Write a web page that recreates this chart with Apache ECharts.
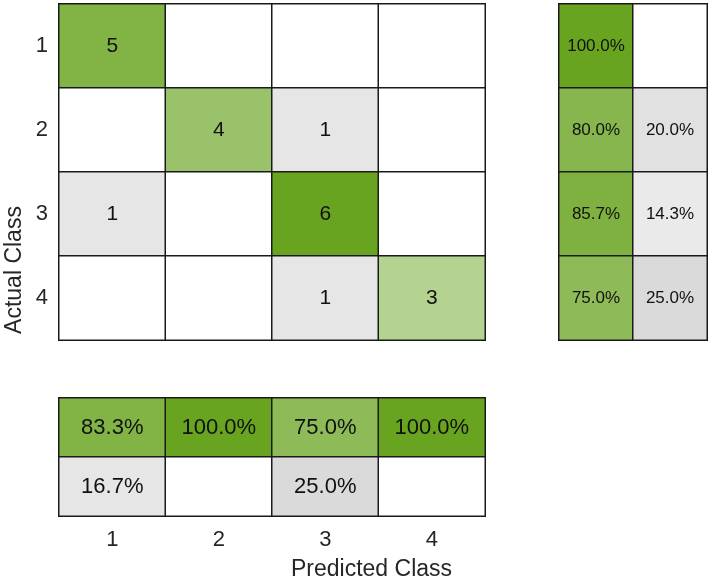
<!DOCTYPE html>
<html>
<head>
<meta charset="utf-8">
<script src="https://cdn.jsdelivr.net/npm/echarts@6/dist/echarts.min.js"></script>
<style>html,body{margin:0;padding:0;background:#fff;}#c{width:713px;height:585px;}</style>
</head>
<body>
<div id="c"></div>
<script>
const classes = ['1', '2', '3', '4'];
const confusion = [
  [5, 0, 0, 0],
  [0, 4, 1, 0],
  [1, 0, 6, 0],
  [0, 0, 1, 3]
];
const rowCorrect = [100.0, 80.0, 85.7, 75.0];
const rowIncorrect = [0, 20.0, 14.3, 25.0];
const colCorrect = [83.3, 100.0, 75.0, 100.0];
const colIncorrect = [16.7, 0, 25.0, 0];
const xTitle = 'Predicted Class';
const yTitle = 'Actual Class';

const FONT = 'Liberation Sans, Arial, Helvetica, sans-serif';
function mix(base, t) {
  const r = Math.round(255 + (base[0] - 255) * t);
  const g = Math.round(255 + (base[1] - 255) * t);
  const b = Math.round(255 + (base[2] - 255) * t);
  return 'rgb(' + r + ',' + g + ',' + b + ')';
}
const GREEN = [104, 164, 32];
const GREY = [105, 105, 105];
function greenCol(t) { return t > 0 ? mix(GREEN, t) : '#ffffff'; }
function greyCol(t) { return t > 0 ? mix(GREY, t) : '#ffffff'; }

const maxCount = Math.max.apply(null, confusion.map(r => Math.max.apply(null, r)));
const mainData = [];
confusion.forEach((row, i) => row.forEach((v, j) => {
  const t = v / maxCount;
  mainData.push({
    value: [j, i, v],
    itemStyle: { color: v === 0 ? '#ffffff' : (i === j ? greenCol(t) : greyCol(t)) }
  });
}));
const rightData = [];
rowCorrect.forEach((v, i) => {
  rightData.push({ value: [0, i, v], itemStyle: { color: greenCol(v / 100) } });
  rightData.push({ value: [1, i, rowIncorrect[i]], itemStyle: { color: greyCol(rowIncorrect[i] / 100) } });
});
const bottomData = [];
colCorrect.forEach((v, j) => {
  bottomData.push({ value: [j, 0, v], itemStyle: { color: greenCol(v / 100) } });
  bottomData.push({ value: [j, 1, colIncorrect[j]], itemStyle: { color: greyCol(colIncorrect[j] / 100) } });
});

const border = { borderColor: '#1a1a1a', borderWidth: 1.5 };
const hidden = { show: false };
const chart = echarts.init(document.getElementById('c'), null, { renderer: 'canvas' });
chart.setOption({
  animation: false,
  backgroundColor: '#ffffff',
  textStyle: { fontFamily: FONT },
  grid: [
    { left: 59, top: 4, width: 426, height: 336 },
    { left: 559, top: 4, width: 148, height: 336 },
    { left: 59, top: 398, width: 426, height: 118 }
  ],
  xAxis: [
    { type: 'category', gridIndex: 0, data: classes, axisLine: hidden, axisTick: hidden, axisLabel: hidden, splitLine: hidden },
    { type: 'category', gridIndex: 1, data: ['c', 'i'], axisLine: hidden, axisTick: hidden, axisLabel: hidden, splitLine: hidden },
    { type: 'category', gridIndex: 2, data: classes, axisLine: hidden, axisTick: hidden, splitLine: hidden,
      axisLabel: { fontSize: 22, color: '#262626', margin: 13, fontFamily: FONT } }
  ],
  yAxis: [
    { type: 'category', gridIndex: 0, data: classes, inverse: true, axisLine: hidden, axisTick: hidden, splitLine: hidden,
      axisLabel: { fontSize: 22, color: '#262626', margin: 11, fontFamily: FONT } },
    { type: 'category', gridIndex: 1, data: classes, inverse: true, axisLine: hidden, axisTick: hidden, axisLabel: hidden, splitLine: hidden },
    { type: 'category', gridIndex: 2, data: ['c', 'i'], inverse: true, axisLine: hidden, axisTick: hidden, axisLabel: hidden, splitLine: hidden }
  ],
  series: [
    { type: 'heatmap', xAxisIndex: 0, yAxisIndex: 0, data: mainData, itemStyle: border,
      label: { show: true, fontSize: 21, color: '#111', fontFamily: FONT,
        formatter: p => p.value[2] ? String(p.value[2]) : '' } },
    { type: 'heatmap', xAxisIndex: 1, yAxisIndex: 1, data: rightData, itemStyle: border,
      label: { show: true, fontSize: 17, color: '#111', fontFamily: FONT,
        formatter: p => p.value[2] ? p.value[2].toFixed(1) + '%' : '' } },
    { type: 'heatmap', xAxisIndex: 2, yAxisIndex: 2, data: bottomData, itemStyle: border,
      label: { show: true, fontSize: 22, color: '#111', fontFamily: FONT,
        formatter: p => p.value[2] ? p.value[2].toFixed(1) + '%' : '' } }
  ],
  graphic: [
    { type: 'text', left: 'center', x: 0, top: 558,
      style: { text: xTitle, font: '23px ' + FONT, fill: '#262626' }, left: 291 },
    { type: 'text', x: 3, y: 270, rotation: Math.PI / 2, originX: 0, originY: 0,
      style: { text: yTitle, font: '23px ' + FONT, fill: '#262626', align: 'center', verticalAlign: 'top' } }
  ]
});
</script>
</body>
</html>
